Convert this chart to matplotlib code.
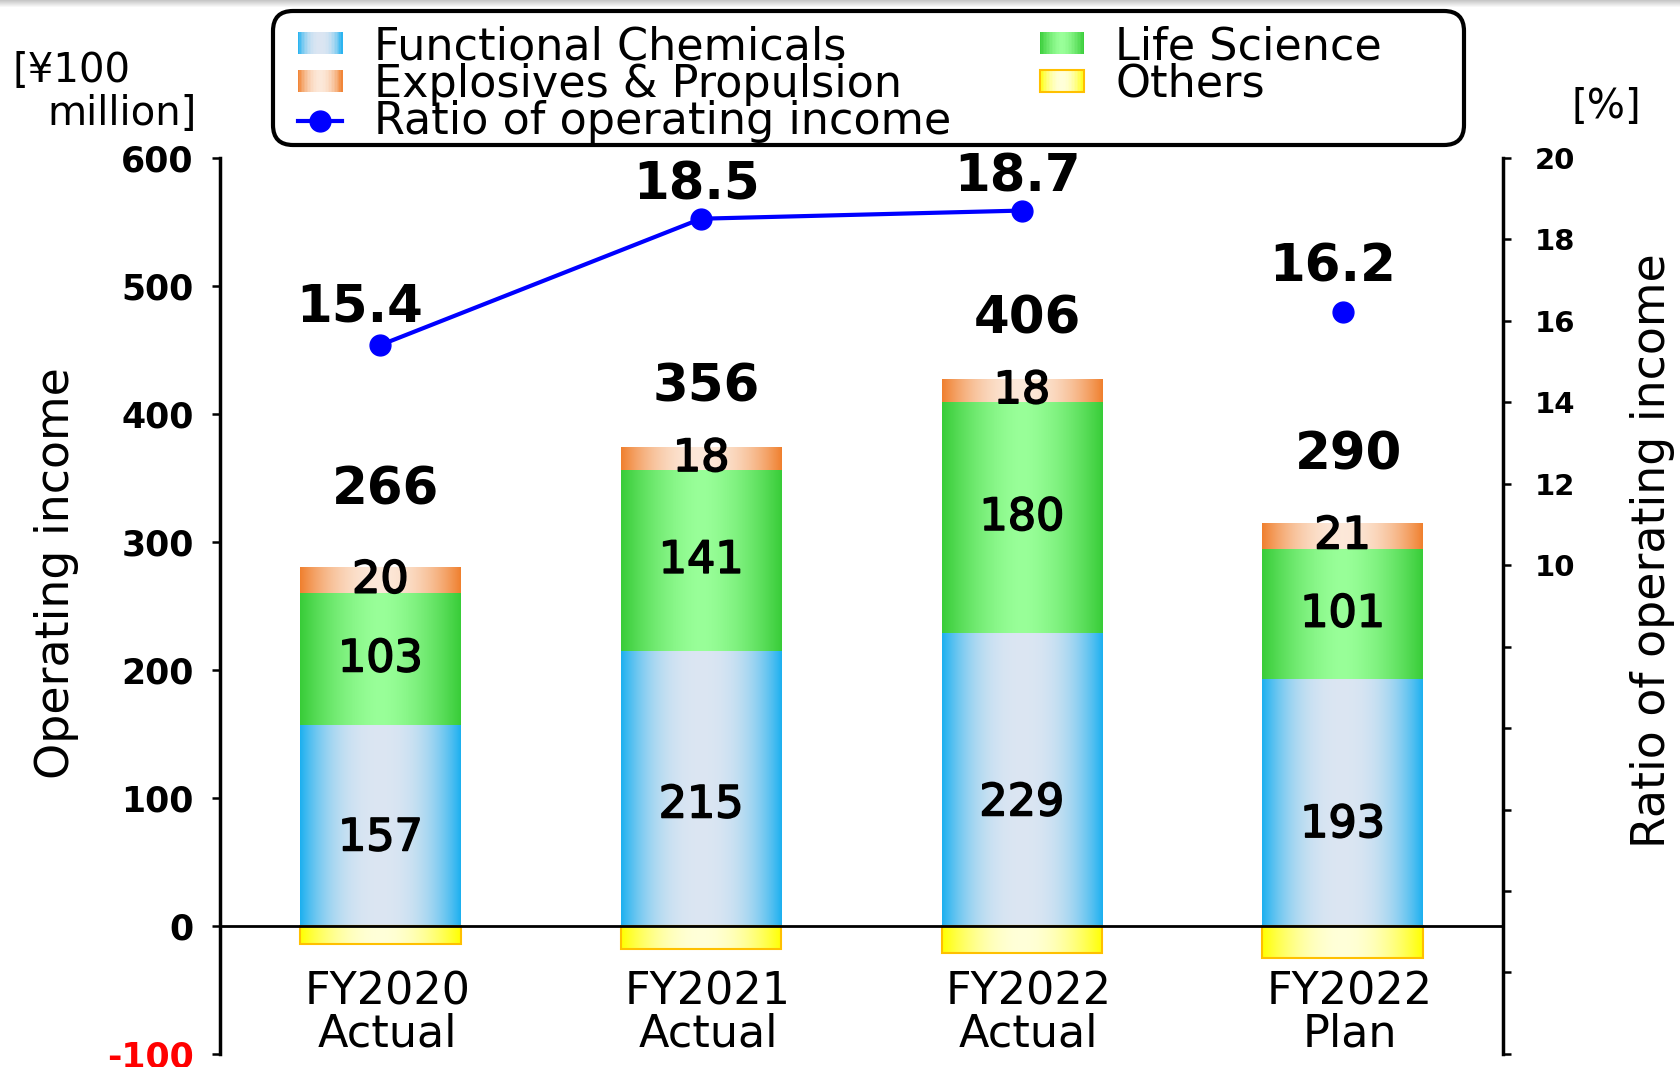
import numpy as np
import matplotlib
matplotlib.use("Agg")
import matplotlib.pyplot as plt
import matplotlib.patheffects as pe
from matplotlib.patches import Rectangle, FancyBboxPatch
from matplotlib.legend_handler import HandlerBase
from matplotlib.lines import Line2D

# data
categories = ["FY2020\nActual", "FY2021\nActual", "FY2022\nActual", "FY2022\nPlan"]
functional = [157, 215, 229, 193]
life_science = [103, 141, 180, 101]
explosives = [20, 18, 18, 21]
others = [-14, -18, -21, -25]
totals = [266, 356, 406, 290]
ratio = [15.4, 18.5, 18.7, 16.2]
n_actual = 3

left_ticks = [-100, 0, 100, 200, 300, 400, 500, 600]
right_ticks = [-2, 0, 2, 4, 6, 8, 10, 12, 14, 16, 18, 20]

# (edge colour, centre colour, curve power)
BLUE = ((0.11, 0.69, 0.94), (0.86, 0.90, 0.95), 2.5)
GREEN = ((0.22, 0.80, 0.22), (0.60, 1.00, 0.60), 1.6)
ORANGE = ((0.94, 0.50, 0.18), (0.99, 0.91, 0.85), 2.0)
YELLOW = ((1.00, 1.00, 0.00), (1.00, 1.00, 0.85), 2.0)

plt.rcParams["font.family"] = "DejaVu Sans"


def grad_color(style, t):
    edge, center, power = style
    w = abs(t) ** power
    return tuple(c + (e - c) * w for e, c in zip(edge, center))


def grad_image(style, n=256):
    ts = np.linspace(-1, 1, n)
    return np.array([[grad_color(style, t) for t in ts]])


def gradient_fill(ax, bars, style):
    img = grad_image(style)
    for b in bars:
        x, y = b.get_x(), b.get_y()
        w, h = b.get_width(), b.get_height()
        im = ax.imshow(img, extent=[x, x + w, y, y + h], aspect="auto",
                       interpolation="bilinear", zorder=2)
        im.set_clip_path(b)


class GradPatch(Rectangle):
    def __init__(self, style, outline=None):
        super().__init__((0, 0), 1, 1)
        self.style = style
        self.outline = outline


class HandlerGradient(HandlerBase):
    def create_artists(self, legend, orig_handle, xdescent, ydescent,
                       width, height, fontsize, trans):
        n = 30
        arts = []
        for i in range(n):
            t = (i + 0.5) / n * 2 - 1
            r = Rectangle((-xdescent + i * width / n, -ydescent), width / n * 1.05, height,
                          facecolor=grad_color(orig_handle.style, t), edgecolor="none",
                          transform=trans)
            arts.append(r)
        if orig_handle.outline:
            arts.append(Rectangle((-xdescent, -ydescent), width, height, facecolor="none",
                                  edgecolor=orig_handle.outline, lw=1.5, transform=trans))
        return arts


fig = plt.figure(figsize=(16.81, 10.67), dpi=100)
ax = fig.add_axes([0.1309, 0.0122, 0.7632, 0.8401])
ax2 = ax.twinx()

x = np.arange(len(categories))
bw = 0.5
bottom2 = np.array(functional)
bottom3 = bottom2 + np.array(life_science)
pos_top = bottom3 + np.array(explosives)

b1 = ax.bar(x, functional, bw, facecolor="none", lw=0, zorder=2)
b2 = ax.bar(x, life_science, bw, bottom=bottom2, facecolor="none", lw=0, zorder=2)
b3 = ax.bar(x, explosives, bw, bottom=bottom3, facecolor="none", lw=0, zorder=2)
b4 = ax.bar(x, others, bw, facecolor="none", edgecolor="#FFC000", lw=1.5, zorder=3)
gradient_fill(ax, b1, BLUE)
gradient_fill(ax, b2, GREEN)
gradient_fill(ax, b3, ORANGE)
gradient_fill(ax, b4, YELLOW)

ax.axhline(0, color="black", lw=2, zorder=4)

semi = [pe.withStroke(linewidth=1.2, foreground="black")]
total_offsets = [55, 43, 43, 48]
blue_offsets = [-9, -12, -17, -16]
for i in range(len(categories)):
    ax.annotate(str(functional[i]), (x[i], functional[i] / 2), xytext=(0, blue_offsets[i]),
                textcoords="offset points", ha="center", va="center", fontsize=32,
                path_effects=semi, zorder=6)
    ax.annotate(str(life_science[i]), (x[i], bottom2[i] + life_science[i] / 2),
                ha="center", va="center", fontsize=32, path_effects=semi, zorder=6)
    ax.annotate(str(explosives[i]), (x[i], bottom3[i] + explosives[i] / 2),
                ha="center", va="center", fontsize=32, path_effects=semi, zorder=6)
    ax.annotate(str(totals[i]), (x[i], pos_top[i]), xytext=(4, total_offsets[i]),
                textcoords="offset points", ha="center", va="center", fontsize=37,
                fontweight="bold", zorder=6)
    ax.annotate(categories[i], (x[i], -68), xytext=(5, 0), textcoords="offset points",
                ha="center", va="center", fontsize=32, linespacing=0.95)

ax.set_xlim(-0.5, 3.5)
ax.set_ylim(-100, 600)
ax.set_xticks([])
ax.set_yticks(left_ticks)
ax.set_yticklabels([str(v) for v in left_ticks], fontsize=25, fontweight="bold")
ax.get_yticklabels()[0].set_color("red")
ax.tick_params(axis="y", direction="out", length=6, width=1.8, pad=13)
for s in ["top", "right", "bottom"]:
    ax.spines[s].set_visible(False)
ax.spines["left"].set_linewidth(2.5)

# ratio line (plan point kept apart)
ax2.plot(x[:n_actual], ratio[:n_actual], color="blue", lw=3, marker="o", ms=15, zorder=5)
ax2.plot(x[n_actual:], ratio[n_actual:], color="blue", ls="none", marker="o", ms=15, zorder=5)
pct_offsets = [(-15, 27), (-3, 24), (-3, 24), (-7, 32)]
for i, r in enumerate(ratio):
    ax2.annotate(f"{r:.1f}", (x[i], r), xytext=pct_offsets[i], textcoords="offset points",
                 ha="center", va="center", fontsize=37, fontweight="bold")
ax2.set_ylim(-2, 20)
ax2.set_yticks(right_ticks)
ax2.set_yticklabels([str(v) if v >= 10 else "" for v in right_ticks], fontsize=21,
                    fontweight="bold")
ax2.tick_params(axis="y", direction="out", length=6, width=1.8, pad=17)
for s in ["top", "left", "bottom"]:
    ax2.spines[s].set_visible(False)
ax2.spines["right"].set_linewidth(2.5)

# axis titles
fig.text(13 / 1681, 1 - 71 / 1067, "[¥100", fontsize=29, ha="left", va="center")
fig.text(47 / 1681, 1 - 114 / 1067, "million]", fontsize=29, ha="left", va="center")
fig.text(1572 / 1681, 1 - 107 / 1067, "[%]", fontsize=29, ha="left", va="center")
fig.text(57 / 1681, 1 - 573 / 1067, "Operating income", fontsize=33, rotation=90,
         ha="center", va="center")
fig.text(1653 / 1681, 1 - 551 / 1067, "Ratio of operating income", fontsize=33,
         rotation=90, ha="center", va="center")

# legend with rounded frame
frame = FancyBboxPatch((2.73, 9.22), 11.91, 1.34, boxstyle="round,pad=0,rounding_size=0.2",
                       transform=fig.dpi_scale_trans, facecolor="white", edgecolor="black",
                       lw=3, zorder=1)
fig.add_artist(frame)
handles = [GradPatch(BLUE), GradPatch(ORANGE),
           Line2D([], [], color="blue", lw=3, marker="o", ms=15),
           GradPatch(GREEN), GradPatch(YELLOW, outline="#FFC000")]
labels = ["Functional Chemicals", "Explosives & Propulsion", "Ratio of operating income",
          "Life Science", "Others"]
leg = fig.legend(handles, labels, ncol=2, loc="upper left",
                 bbox_to_anchor=(298 / 1681, 1 - 25 / 1067), frameon=False, fontsize=32,
                 handlelength=1.0, handleheight=0.4, handletextpad=0.7, columnspacing=2.0,
                 labelspacing=-0.12, borderpad=0, borderaxespad=0,
                 handler_map={GradPatch: HandlerGradient()})
leg.set_zorder(2)

# faint shadow along the top edge
top = fig.add_axes([0, 1 - 8 / 1067, 1, 8 / 1067])
shade = np.linspace(0.78, 1.0, 8)[:, None] * np.ones((8, 2))
top.imshow(shade, cmap="gray", vmin=0, vmax=1, aspect="auto", extent=[0, 1, 0, 1])
top.axis("off")

fig.savefig("out.png", dpi=100)
